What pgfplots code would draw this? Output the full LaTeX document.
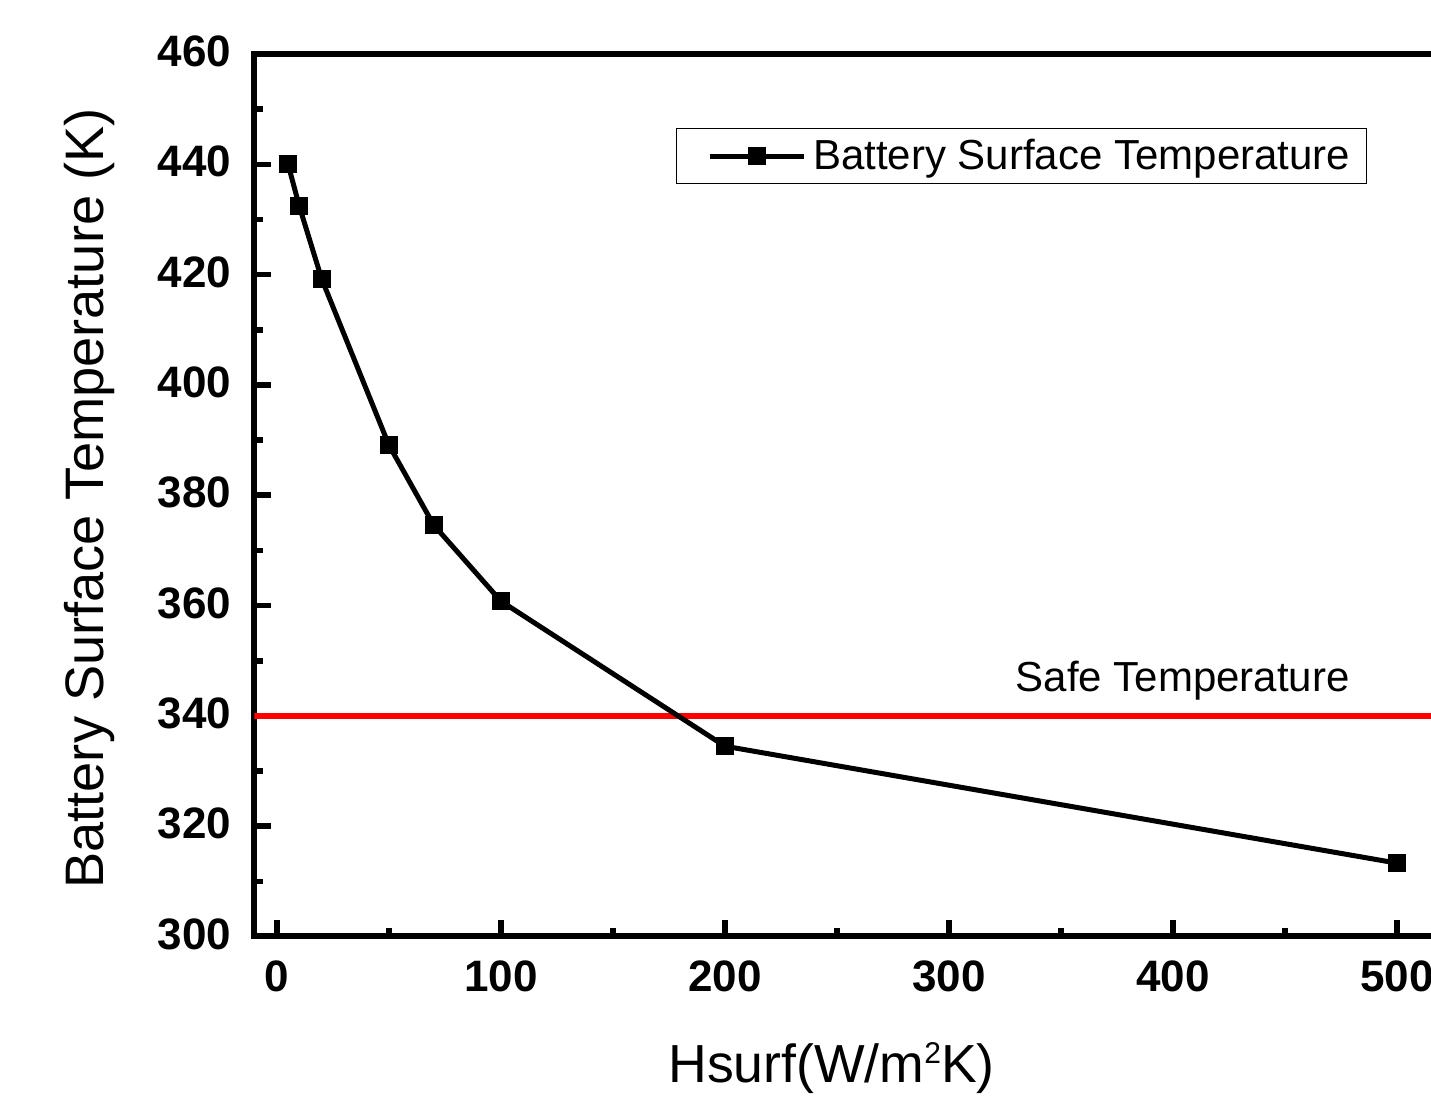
\documentclass[border=0pt]{standalone}
\usepackage{fontspec}
\setmainfont{Liberation Sans}
\usepackage{pgfplots}
\pgfplotsset{compat=1.18}
\begin{document}
\begin{tikzpicture}
\begin{axis}[name=ax, at={(0,0)}, anchor=south west,
  scale only axis, width=593.65pt, height=441.25pt,
  xmin=-10, xmax=520, ymin=300, ymax=460,
  xtick={0,100,...,500}, ytick={300,320,...,460},
  minor x tick num=1, minor y tick num=1,
  tick align=inside, xtick pos=bottom, ytick pos=left,
  major tick length=8.4pt, minor tick length=4.2pt,
  axis line style={line width=3pt},
  tick style={black, line width=2.8pt},
  /pgf/number format/assume math mode=true,
  xticklabel style={font=\fontsize{22}{26}\selectfont\bfseries, inner sep=0pt, yshift=-11.75pt},
  yticklabel style={font=\fontsize{22}{26}\selectfont\bfseries, inner sep=0pt, xshift=-11.4pt, yshift=1.3pt},
  xlabel={Hsurf(W/m\raisebox{9.5pt}{\fontsize{15}{17}\selectfont 2}K)},
  xlabel style={at={(axis description cs:0.486,-0.166)}, anchor=base, font=\fontsize{26.8}{30}\selectfont},
  ylabel={Battery Surface Temperature (K)},
  ylabel style={at={(axis description cs:-0.1276,0.4963)}, anchor=base, font=\fontsize{27.1}{31}\selectfont},
  legend style={at={(axis description cs:0.9368,0.9158)}, anchor=north east, draw=black, line width=0.6pt,
    font=\fontsize{21}{24}\selectfont, inner xsep=5pt, inner ysep=3.25pt,
    nodes={inner xsep=3pt, inner ysep=2pt}, /tikz/every odd column/.style={column sep=0.5pt}},
  legend image code/.code={\path (-10.5pt,0pt); \draw[mark repeat=2, mark phase=2, #1] plot coordinates {(0pt,0pt) (23.5pt,0pt) (47pt,0pt)};},
]
\addplot[red, line width=3.3pt, forget plot] coordinates {(-10,340) (520,340)};
\addplot[black, line width=2.5pt, mark=square*, mark size=4.25pt, mark options={solid, line width=0.5pt}]
  coordinates {(5,440) (10,432.4) (20,419.2) (50,389.1) (70,374.6) (100,360.8) (200,334.5) (500,313.3)};
\addlegendentry{Battery Surface Temperature}
\node[anchor=base west, inner sep=0pt, font=\fontsize{21}{24}\selectfont] at (axis cs:329.6,344.4) {Safe Temperature};
\end{axis}
\pgfresetboundingbox
\path[use as bounding box] ([xshift=-127.25pt,yshift=-80.25pt]ax.south west) rectangle ([xshift=588.25pt,yshift=468.25pt]ax.south west);
\end{tikzpicture}
\end{document}
